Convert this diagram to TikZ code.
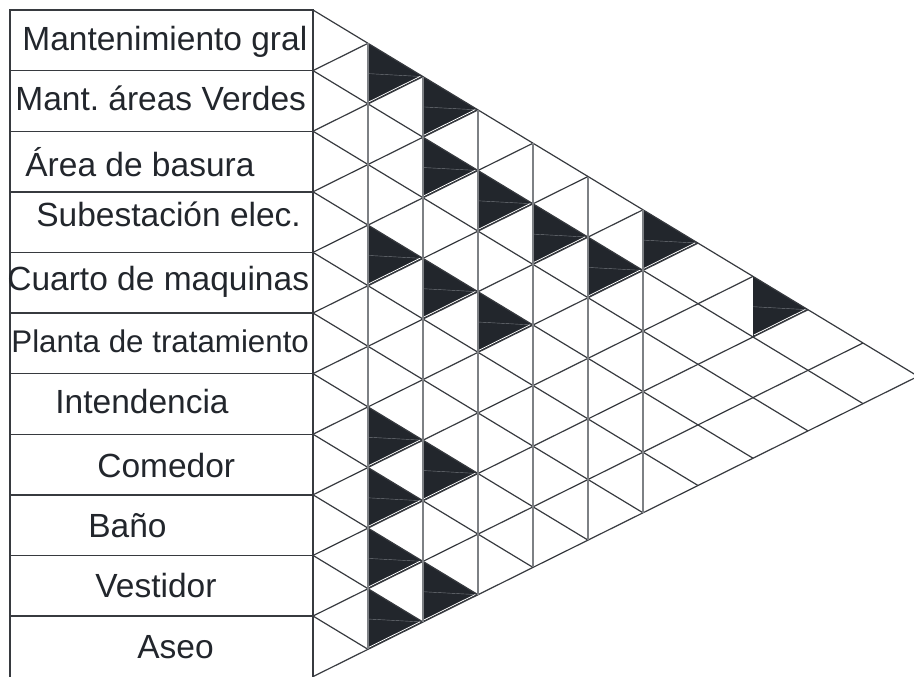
\documentclass[tikz,border=0pt]{standalone}
\usepackage{fontspec}
\setmainfont{Liberation Sans}
\frenchspacing
\usetikzlibrary{calc}
\definecolor{mxink}{RGB}{34, 38, 44}
\definecolor{mxline}{RGB}{55, 58, 63}
\definecolor{mxvert}{RGB}{125, 128, 132}
\definecolor{mxhatch}{RGB}{120, 124, 130}

\begin{document}
\begin{tikzpicture}[x=0.5pt, y=-0.5pt,
  tbl/.style={mxline, line width=0.7pt},
  gridline/.style={mxline, line width=0.6pt},
  vline/.style={mxvert, line width=0.8pt},
  lbl/.style={anchor=base west, inner sep=0pt, text=mxink,
    font=\fontsize{16.75}{20}\selectfont}]

  \useasboundingbox (0,0) rectangle (914,676);

  % --- grid points (column k, row line a) ---
  \foreach \k in {0,...,11} {
    \pgfmathtruncatemacro{\amax}{11-\k}
    \foreach \a in {0,...,\amax}
      \coordinate (p-\k-\a) at ({313+55*\k}, {10+60.6*\a+33.3*\k});
  }
  \foreach \a in {0,...,11}
    \coordinate (w-\a) at (10, {10+60.6*\a});

  % --- related spaces (right half of each cell filled) ---
  \foreach \k/\a in {1/0, 2/0, 2/1, 3/1, 4/1, 5/1, 6/0, 1/3, 2/3, 3/3, 8/0,
                     1/6, 1/7, 2/6, 1/8, 2/8, 1/9} {
    \pgfmathtruncatemacro{\kk}{\k+1}
    \pgfmathtruncatemacro{\an}{\a+1}
    \fill[mxink] (p-\k-\a) -- (p-\kk-\a) -- (p-\k-\an) -- cycle;
    \draw[mxhatch, very thin] ($(p-\k-\a)!0.5!(p-\k-\an)$) -- (p-\kk-\a);
    \draw[white, line width=0.4pt, shorten >=1.5pt, shorten <=0.5pt]
      ([yshift=0.8pt]p-\k-\an) -- ([yshift=0.8pt]p-\kk-\a);
  }

  % --- diagonal lines ---
  \foreach \a in {0,...,10} {
    \pgfmathtruncatemacro{\kend}{11-\a}
    \draw[gridline] (p-0-\a) -- (p-\kend-\a);
  }
  \foreach \b in {1,...,11}
    \draw[gridline] (p-0-\b) -- (p-\b-0);

  % --- vertical split lines ---
  \foreach \k in {1,...,6} {
    \pgfmathtruncatemacro{\aend}{11-\k}
    \draw[vline] (p-\k-0) -- (p-\k-\aend);
  }

  % --- table of spaces ---
  \draw[tbl] (w-11) -- (w-0) -- (p-0-0) -- (p-0-11);
  \foreach \a in {1,...,10}
    \draw[tbl] (w-\a) -- (p-0-\a);

  \foreach \r/\x/\y/\txt in {
    1/22/50/Mantenimiento gral,
    2/15/110/Mant. áreas Verdes,
    3/25/176.7/Área de basura,
    4/36/226.7/Subestación elec.,
    5/7/290/Cuarto de maquinas,
    7/55/413/Intendencia,
    8/97/477/Comedor,
    9/88/537/Baño,
    10/95/597/Vestidor,
    11/137/658/Aseo}
  {
    \node[lbl] (space-\r) at (\x, \y) {\txt};
  }
  \node[lbl, font=\fontsize{15.65}{19}\selectfont] (space-6) at (11, 352.7)
    {Planta de tratamiento};

\end{tikzpicture}
\end{document}
